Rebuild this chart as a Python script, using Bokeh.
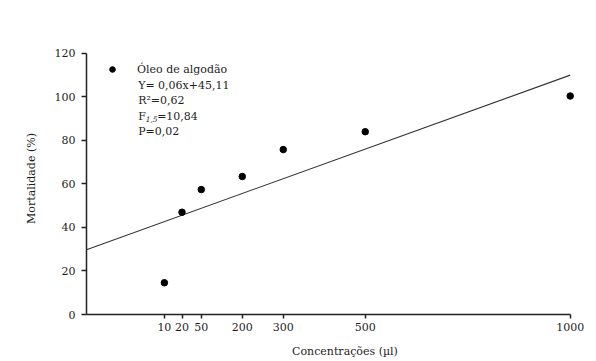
from bokeh.plotting import figure
from bokeh.models import Range1d, FixedTicker, Label
from bokeh.embed import file_html
from bokeh.resources import INLINE

# --- data ---
conc_labels = ["10", "20", "50", "200", "300", "500", "1000"]
axis_pos = [10, 53, 100, 200, 300, 500, 1000]       # where each concentration sits on the axis
mortality = [14.6, 47.0, 57.4, 63.4, 75.8, 84.0, 100.4]
fit_x = [-180, 1000]
fit_y = [29.8, 110.0]
y_ticks = [0, 20, 40, 60, 80, 100, 120]
stats_lines = ["Y= 0,06x+45,11", "R\u00b2=0,62", "P=0,02"]

FONT = "DejaVu Serif"
TXT = "#1e1e1e"
FS = "11px"

p = figure(width=596, height=361, x_range=Range1d(-180, 1030), y_range=Range1d(0, 125),
           output_backend="svg", toolbar_location=None,
           min_border_left=86, min_border_right=14, min_border_top=42, min_border_bottom=47)
p.grid.visible = False
p.outline_line_color = None

# regression line
p.line(fit_x, fit_y, line_color="#333333", line_width=1.1)
# points
p.scatter(axis_pos, mortality, size=6.5, marker="circle", fill_color="black", line_color="black",
          legend_label="Óleo de algodão")

# axes
xa = p.xaxis[0]
xa.ticker = FixedTicker(ticks=axis_pos)
xa.major_label_overrides = {pos: lab for pos, lab in zip(axis_pos, conc_labels)}
xa.bounds = (fit_x[0], axis_pos[-1])
xa.axis_label = "\u00a0" * 10 + "Concentrações     (µl)"
xa.major_tick_out = 4
xa.major_label_standoff = 4
xa.axis_label_standoff = 11

ya = p.yaxis[0]
ya.ticker = FixedTicker(ticks=y_ticks)
ya.bounds = (y_ticks[0], y_ticks[-1])
ya.axis_label = "Mortalidade (%)"
ya.major_tick_out = 5
ya.major_label_standoff = 6
ya.axis_label_standoff = 14

for ax in (xa, ya):
    ax.minor_tick_line_color = None
    ax.major_tick_in = 0
    ax.axis_line_color = "#222222"
    ax.axis_line_width = 1.5
    ax.major_tick_line_color = "#222222"
    ax.major_tick_line_width = 1.5
    ax.major_label_text_font = FONT
    ax.major_label_text_font_size = FS
    ax.major_label_text_color = TXT
    ax.axis_label_text_font = FONT
    ax.axis_label_text_font_size = FS
    ax.axis_label_text_font_style = "normal"
    ax.axis_label_text_color = TXT

# legend
lg = p.legend[0]
lg.location = (19, 238)
lg.padding = 0
lg.margin = 0
lg.spacing = 0
lg.border_line_color = None
lg.background_fill_alpha = 0
lg.glyph_width = 14
lg.glyph_height = 14
lg.label_height = 14
lg.label_standoff = 18
lg.label_text_font = FONT
lg.label_text_font_size = FS
lg.label_text_color = TXT

# statistics text
tx = -54
ys = [105.4, 98.3, 84.0]
for s, y in zip(stats_lines, ys):
    p.add_layout(Label(x=tx, y=y, text=s, text_font=FONT, text_font_size=FS,
                       text_color=TXT, text_baseline="middle"))
fy = 91.1
p.add_layout(Label(x=tx, y=fy, text="F", text_font=FONT, text_font_size=FS,
                   text_color=TXT, text_baseline="middle"))
p.add_layout(Label(x=tx, y=fy, x_offset=7.5, y_offset=-3, text="1,5", text_font=FONT,
                   text_font_size="7.5px", text_font_style="italic", text_color=TXT,
                   text_baseline="middle"))
p.add_layout(Label(x=tx, y=fy, x_offset=19, text="=10,84", text_font=FONT, text_font_size=FS,
                   text_color=TXT, text_baseline="middle"))

open("out.html", "w").write(file_html(p, INLINE))
